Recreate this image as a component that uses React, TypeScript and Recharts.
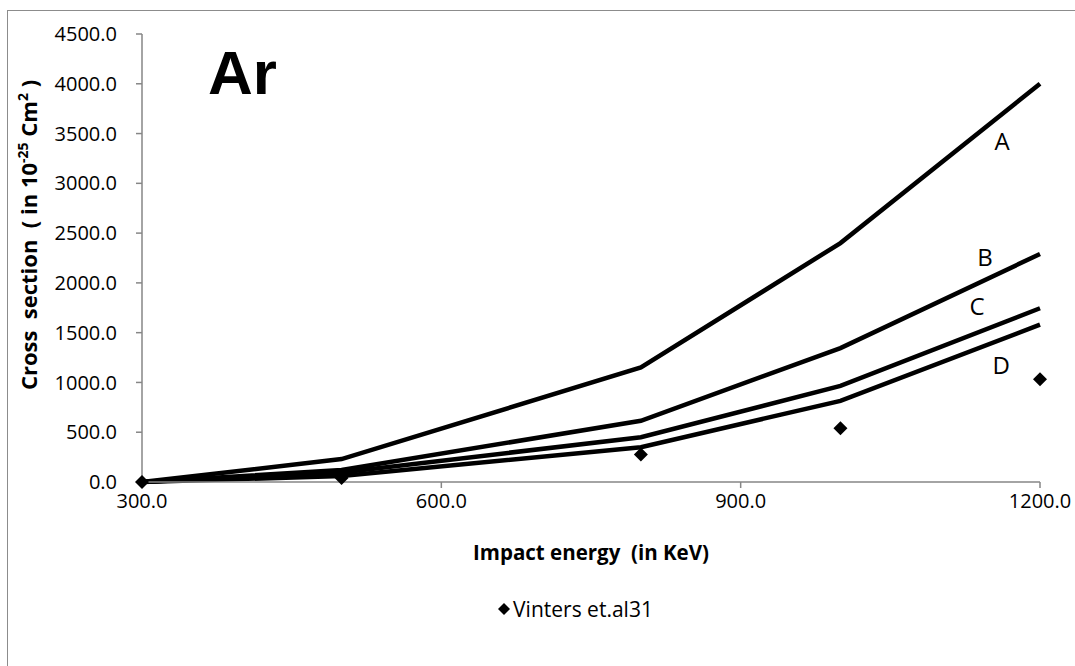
import React from 'react';
import {
    ComposedChart,
    Line,
    Scatter,
    XAxis,
    YAxis,
    Legend,
    Label,
    ReferenceDot
} from 'recharts';

// impact energy (KeV)
const energies = [300, 500, 800, 1000, 1200];
// cross sections, 10^-25 cm^2
const curveA = [0, 230, 1150, 2400, 4000];
const curveB = [0, 120, 615, 1345, 2290];
const curveC = [0, 95, 450, 965, 1745];
const curveD = [0, 60, 350, 815, 1580];
const vinters = [0, 40, 275, 540, 1032];

const xTicks = [300, 600, 900, 1200];
const yTicks = [0, 500, 1000, 1500, 2000, 2500, 3000, 3500, 4000, 4500];

// curve name labels, in data coords
const curveLabels = [
    { name: 'A', x: 1162, y: 3420 },
    { name: 'B', x: 1145, y: 2260 },
    { name: 'C', x: 1137, y: 1760 },
    { name: 'D', x: 1161, y: 1170 },
];

const rows = energies.map((e, i) => ({
    x: e,
    A: curveA[i],
    B: curveB[i],
    C: curveC[i],
    D: curveD[i],
    V: vinters[i],
}));

const FONT = '"Open Sans", sans-serif';
const AXIS = '#868686';

const Diamond = (props: any) => {
    const { cx, cy } = props;
    if (cx == null || cy == null) return null;
    const r = 7;
    return (
        <polygon
            points={`${cx},${cy - r} ${cx + r},${cy} ${cx},${cy + r} ${cx - r},${cy}`}
            fill="#000"
        />
    );
};

const YTitle = () => {
    return (
        <text
            x={0}
            y={0}
            transform="translate(37, 235) rotate(-90)"
            textAnchor="middle"
            fontFamily={FONT}
            fontWeight="bold"
            fontSize={22}
            fill="#000"
            style={{ whiteSpace: 'pre' }}
        >
            <tspan>Cross  section  ( in 10</tspan>
            <tspan fontSize={14} dy={-9}>-25</tspan>
            <tspan dy={9}> Cm</tspan>
            <tspan fontSize={14} dy={-9}>2</tspan>
            <tspan dy={9}> )</tspan>
        </text>
    );
};

const XTitle = (props: any) => {
    const vb = props.viewBox || {};
    const cx = vb.x + vb.width / 2;
    return (
        <text
            x={cx}
            y={vb.y + 78}
            textAnchor="middle"
            fontFamily={FONT}
            fontWeight="bold"
            fontSize={20.5}
            fill="#000"
            style={{ whiteSpace: 'pre' }}
        >
            Impact energy  (in KeV)
        </text>
    );
};

const LegendBox = (props: any) => {
    const items = (props.payload || []).filter((p: any) => p.value === 'Vinters et.al31');
    return (
        <div style={{ display: 'flex', justifyContent: 'center', fontFamily: FONT, fontSize: 21 }}>
            {items.map((p: any) => (
                <div key={p.value} style={{ display: 'flex', alignItems: 'center' }}>
                    <svg width={14} height={14} style={{ marginRight: 2 }}>
                        <polygon points="7,1 13,7 7,13 1,7" fill="#000" />
                    </svg>
                    <span style={{ color: '#000' }}>{p.value}</span>
                </div>
            ))}
        </div>
    );
};

export default function App() {
    return (
        <div style={{ position: 'absolute', left: 0, top: 0, width: 1075, height: 666, background: '#fff', overflow: 'hidden' }}>
            <div
                style={{
                    position: 'absolute',
                    left: 7,
                    top: 10,
                    width: 1100,
                    height: 700,
                    border: '1.5px solid #8c8c8c',
                }}
            />
            <div style={{ position: 'absolute', left: 0, top: 0 }}>
                <ComposedChart
                    width={1075}
                    height={666}
                    data={rows}
                    margin={{ top: 34, right: 35, left: 0, bottom: 0 }}
                >
                    <XAxis
                        type="number"
                        dataKey="x"
                        domain={[300, 1200]}
                        ticks={xTicks}
                        tickFormatter={(v: number) => v.toFixed(1)}
                        tickSize={6}
                        tickMargin={6}
                        height={156}
                        stroke={AXIS}
                        strokeWidth={1.5}
                        tick={{ fill: '#000', fontSize: 20, fontFamily: FONT }}
                    >
                        <Label content={<XTitle />} />
                    </XAxis>
                    <YAxis
                        type="number"
                        domain={[0, 4500]}
                        ticks={yTicks}
                        interval={0}
                        tickFormatter={(v: number) => v.toFixed(1)}
                        tickSize={6}
                        tickMargin={19}
                        width={142}
                        stroke={AXIS}
                        strokeWidth={1.5}
                        tick={{ fill: '#000', fontSize: 20, fontFamily: FONT }}
                    >
                        <Label content={<YTitle />} />
                    </YAxis>
                    <Legend
                        verticalAlign="bottom"
                        content={<LegendBox />}
                        wrapperStyle={{ position: 'absolute', top: 595, left: 175, width: 800 }}
                    />
                    {['A', 'B', 'C', 'D'].map((k) => (
                        <Line
                            key={k}
                            dataKey={k}
                            type="linear"
                            stroke="#000"
                            strokeWidth={4.5}
                            dot={false}
                            activeDot={false}
                            legendType="none"
                            isAnimationActive={false}
                        />
                    ))}
                    <Scatter
                        name="Vinters et.al31"
                        dataKey="V"
                        fill="#000"
                        shape={<Diamond />}
                        legendType="diamond"
                        isAnimationActive={false}
                    />
                    {curveLabels.map((c) => (
                        <ReferenceDot
                            key={c.name}
                            x={c.x}
                            y={c.y}
                            r={0}
                            stroke="none"
                            fill="none"
                            label={{ value: c.name, position: 'center', fontSize: 24, fontFamily: FONT, fill: '#000' }}
                        />
                    ))}
                </ComposedChart>
            </div>
            <div
                style={{
                    position: 'absolute',
                    left: 208,
                    top: 33,
                    fontFamily: '"Liberation Sans", Arial, sans-serif',
                    fontWeight: 'bold',
                    fontSize: 62,
                    lineHeight: '80px',
                    color: '#000',
                }}
            >
                Ar
            </div>
        </div>
    );
}
